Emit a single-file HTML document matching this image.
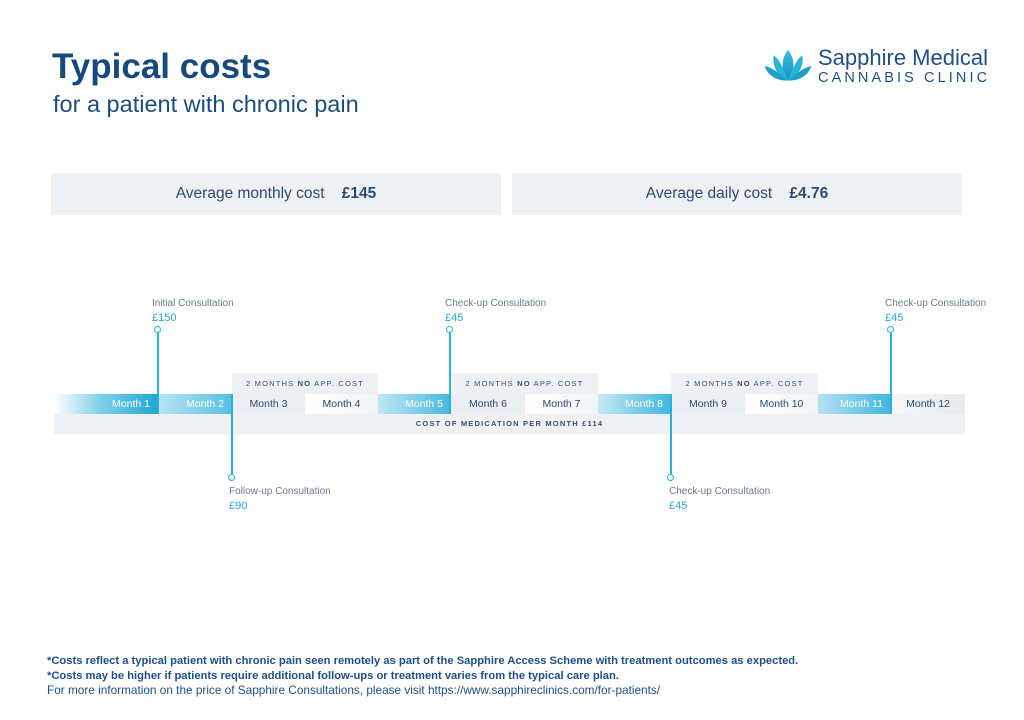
<!DOCTYPE html>
<html><head><meta charset="utf-8"><style>
*{margin:0;padding:0;box-sizing:border-box}
body{width:1024px;height:720px;background:#fff;position:relative;overflow:hidden;font-family:"Liberation Sans",sans-serif}
.a{position:absolute;white-space:nowrap}
.m{position:absolute;top:394px;height:20px;font-size:10.5px;line-height:20px;text-align:right;padding-right:8px;color:#fff}
.g{color:#2a4a75;text-align:center;padding:0}
.lbl{position:absolute;font-size:10px;color:#6b7a8c;line-height:14px}
.lbl b{display:block;font-weight:normal;color:#29a8d6;font-size:11px}
.v{position:absolute;width:2px;background:#29b1dc}
.c{position:absolute;width:7px;height:7px;border:1.6px solid #29b1dc;border-radius:50%;background:#fff}
.nb{position:absolute;top:373px;height:21px;background:#eef0f2;font-size:7.5px;letter-spacing:1.2px;color:#3c4f6a;text-align:center;line-height:21px;font-weight:bold}
.nb span{font-weight:normal}
</style></head><body>
<div class="a" style="left:52px;top:47px;font-size:35px;font-weight:bold;color:#174a7c">Typical costs</div>
<div class="a" style="left:53px;top:91px;font-size:23.5px;color:#1b4d7e">for a patient with chronic pain</div>

<svg class="a" style="left:762px;top:48px" width="52" height="36" viewBox="0 0 56 40">
<defs><linearGradient id="lg" x1="0" y1="0" x2="0" y2="1"><stop offset="0" stop-color="#35c3e0"/><stop offset="1" stop-color="#1b8cc0"/></linearGradient></defs>
<path d="M28 2 C20 12 20 26 28 36 C36 26 36 12 28 2Z" fill="url(#lg)"/>
<path d="M12 8 C10 22 18 32 28 36 C24 26 20 14 12 8Z" fill="#2cb4d8"/>
<path d="M44 8 C46 22 38 32 28 36 C32 26 36 14 44 8Z" fill="#2cb4d8"/>
<path d="M2 20 C6 32 18 37 28 36 C20 30 12 22 2 20Z" fill="#1e9fcc"/>
<path d="M54 20 C50 32 38 37 28 36 C36 30 44 22 54 20Z" fill="#1e9fcc"/>
</svg>
<div class="a" style="left:818px;top:45px;font-size:22px;color:#1f4f86">Sapphire Medical</div>
<div class="a" style="left:818px;top:70px;font-size:14.5px;letter-spacing:3.1px;color:#1f4f86">CANNABIS CLINIC</div>

<div class="a" style="left:51px;top:173px;width:450px;height:42px;background:#eff0f2;font-size:15.5px;color:#2a4a75;line-height:42px;text-align:center">Average monthly cost&nbsp;&nbsp;&nbsp;&nbsp;<b>£145</b></div>
<div class="a" style="left:512px;top:173px;width:450px;height:42px;background:#eff0f2;font-size:15.5px;color:#2a4a75;line-height:42px;text-align:center">Average daily cost&nbsp;&nbsp;&nbsp;&nbsp;<b>£4.76</b></div>

<div class="a" style="left:54px;top:414px;width:911px;height:20px;background:#eff1f3;font-size:7.5px;letter-spacing:1.2px;color:#3c4f6a;text-align:center;line-height:20px;font-weight:bold">COST OF MEDICATION PER MONTH £114</div>

<div class="nb" style="left:232px;width:146px"><span>2 MONTHS </span>NO<span> APP. COST</span></div>
<div class="nb" style="left:451px;width:147px"><span>2 MONTHS </span>NO<span> APP. COST</span></div>
<div class="nb" style="left:671px;width:147px"><span>2 MONTHS </span>NO<span> APP. COST</span></div>

<div class="m" style="left:54px;width:104px;background:linear-gradient(90deg,#fff,#7fd0ea 45%,#1fa6d5)">Month 1</div>
<div class="m" style="left:158px;width:74px;background:linear-gradient(90deg,#b9e5f3,#56bfe2)">Month 2</div>
<div class="m g" style="left:232px;width:73px;background:#eceef1">Month 3</div>
<div class="m g" style="left:305px;width:73px;background:linear-gradient(90deg,#fff,#f1f3f5)">Month 4</div>
<div class="m" style="left:378px;width:73px;background:linear-gradient(90deg,#bfe7f4,#46b9e0)">Month 5</div>
<div class="m g" style="left:451px;width:74px;background:#eceef1">Month 6</div>
<div class="m g" style="left:525px;width:73px;background:linear-gradient(90deg,#fff,#f1f3f5)">Month 7</div>
<div class="m" style="left:598px;width:73px;background:linear-gradient(90deg,#c5e9f5,#3fb6df)">Month 8</div>
<div class="m g" style="left:671px;width:74px;background:#eceef1">Month 9</div>
<div class="m g" style="left:745px;width:73px;background:linear-gradient(90deg,#fff,#f1f3f5)">Month 10</div>
<div class="m" style="left:818px;width:73px;background:linear-gradient(90deg,#b5e3f3,#3fb6df)">Month 11</div>
<div class="m g" style="left:891px;width:74px;background:linear-gradient(90deg,#f6f7f8,#e7e9ec)">Month 12</div>

<div class="v" style="left:157px;top:333px;height:81px"></div><div class="c" style="left:154px;top:326px"></div>
<div class="v" style="left:231px;top:394px;height:82px"></div><div class="c" style="left:228px;top:474px"></div>
<div class="v" style="left:449px;top:333px;height:81px"></div><div class="c" style="left:446px;top:326px"></div>
<div class="v" style="left:670px;top:394px;height:82px"></div><div class="c" style="left:667px;top:474px"></div>
<div class="v" style="left:890px;top:333px;height:81px"></div><div class="c" style="left:887px;top:326px"></div>

<div class="lbl" style="left:152px;top:297px">Initial Consultation<b>£150</b></div>
<div class="lbl" style="left:445px;top:297px">Check-up Consultation<b>£45</b></div>
<div class="lbl" style="left:885px;top:297px">Check-up Consultation<b>£45</b></div>
<div class="lbl" style="left:229px;top:485px">Follow-up Consultation<b>£90</b></div>
<div class="lbl" style="left:669px;top:485px">Check-up Consultation<b>£45</b></div>

<div class="a" style="left:47px;top:654px;font-size:11.2px;line-height:14.5px;color:#1f4f86">
<b>*Costs reflect a typical patient with chronic pain seen remotely as part of the Sapphire Access Scheme with treatment outcomes as expected.</b><br>
<b>*Costs may be higher if patients require additional follow-ups or treatment varies from the typical care plan.</b><br>
<span style="font-size:11.8px">For more information on the price of Sapphire Consultations, please visit https://www.sapphireclinics.com/for-patients/</span></div>
</body></html>
